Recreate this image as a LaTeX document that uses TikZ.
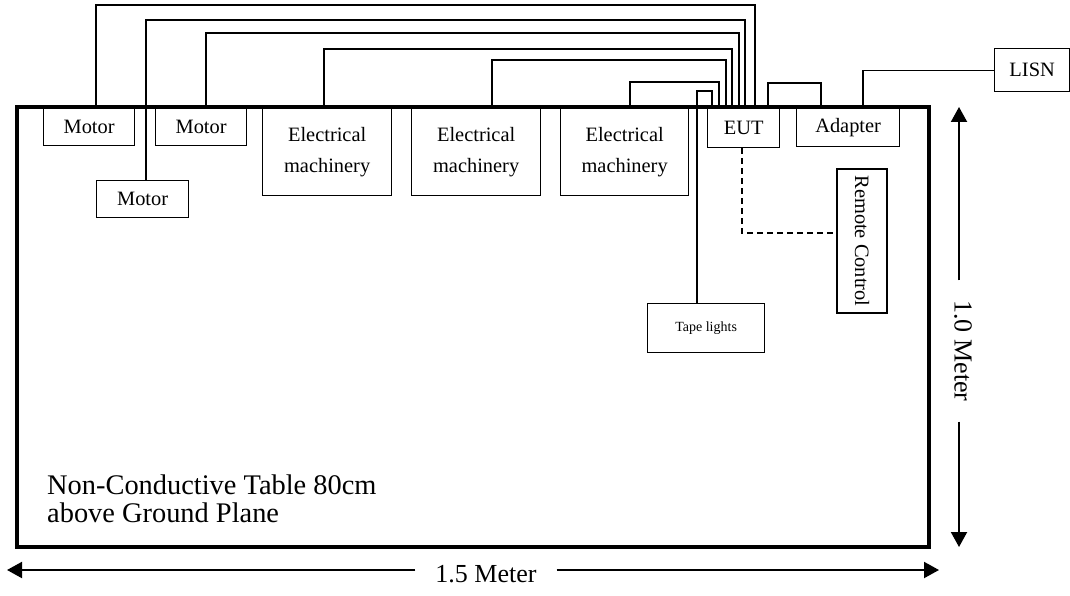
\documentclass[tikz,border=0pt]{standalone}
\usepackage{fontspec}
\setmainfont{Liberation Serif}
\usetikzlibrary{arrows.meta}
\newcommand{\unitfont}{\fontsize{20.4}{31}\selectfont}
\newcommand{\tablefont}{\fontsize{28.4}{28}\selectfont}
\newcommand{\meterfont}{\fontsize{26}{26}\selectfont}

\begin{document}
\begin{tikzpicture}[x=1pt, y=-1pt,
  unit/.style={draw, line width=1.3pt, inner sep=0pt, anchor=north west, align=center, font=\unitfont},
  cable/.style={line width=1.2pt},
  dimline/.style={line width=2pt, -{Triangle[length=15pt, width=16pt]}},
  dimlabel/.style={inner xsep=20pt, inner ysep=0pt, font=\meterfont}]
  \useasboundingbox (0,0) rectangle (1070,596);
  % ---------------------------------------------------------------- the table
  \draw[line width=4pt] (17,107) rectangle (929,547);
  \node[anchor=north west, inner sep=0pt, align=left, font=\tablefont] (tbl) at (47,475)
    {Non-Conductive Table 80cm\\above Ground Plane};
  % ---------------------------------------------------------------- units along the back edge
  \node[unit, minimum width=91, minimum height=38] (mot1) at (43,107) {Motor};
  \node[unit, minimum width=91, minimum height=38] (mot2) at (155,107) {Motor};
  \node[unit, minimum width=92, minimum height=37] (mot3) at (96,180) {Motor};
  \node[unit, minimum width=129, minimum height=88] (mach1) at (262,107) {Electrical\\machinery};
  \node[unit, minimum width=129, minimum height=88] (mach2) at (411,107) {Electrical\\machinery};
  \node[unit, minimum width=128, minimum height=88] (mach3) at (560,107) {Electrical\\machinery};
  \node[unit, minimum width=72, minimum height=40] (eut) at (707,107) {EUT};
  \node[unit, minimum width=103, minimum height=39] (adp) at (796,107) {Adapter};
  \node[unit, minimum width=75, minimum height=43] (lisn) at (994,48) {LISN};
  \node[unit, minimum width=117, minimum height=49, font=\fontsize{14}{16}\selectfont] (tape) at (647,303) {Tape lights};
  \node[unit, anchor=center, rotate=-90, minimum width=144, minimum height=50] (rc) at (862,241) {Remote Control};
  % ---------------------------------------------------------------- cables into the EUT
  \draw[cable] (mot1.north -| 96,0) |- (755,5) -- (eut.north -| 755,0);
  \draw[cable] (mot3.north -| 146,0) |- (745,20) -- (eut.north -| 745,0);
  \draw[cable] (mot2.north -| 206,0) |- (739,33) -- (eut.north -| 739,0);
  \draw[cable] (mach1.north -| 324,0) |- (732,49) -- (eut.north -| 732,0);
  \draw[cable] (mach2.north -| 492,0) |- (726,60) -- (eut.north -| 726,0);
  \draw[cable] (mach3.north -| 630,0) |- (719,82) -- (eut.north -| 719,0);
  \draw[cable] (tape.north -| 697,0) |- (712,91) -- (eut.north -| 712,0);
  % power: EUT -> adapter -> LISN
  \draw[cable] (eut.north -| 768,0) |- (821,83) -- (adp.north -| 821,0);
  \draw[cable] (adp.north -| 863,0) |- (lisn.west);
  % remote control link
  \draw[cable, dash pattern=on 6pt off 4pt] (eut.south -| 742,0) |- (rc.south |- 0,233);
  % ---------------------------------------------------------------- dimensions
  \coordinate (vt) at (959,107);
  \coordinate (vb) at (959,547);
  \node[dimlabel, rotate=-90] (vlab) at (963,351) {1.0 Meter};
  \draw[dimline] (vlab.west -| vt) -- (vt);
  \draw[dimline] (vlab.east -| vb) -- (vb);
  \coordinate (hl) at (7,570);
  \coordinate (hr) at (939,570);
  \node[dimlabel] (hlab) at (486,574) {1.5 Meter};
  \draw[dimline] (hlab.west |- hl) -- (hl);
  \draw[dimline] (hlab.east |- hr) -- (hr);
\end{tikzpicture}
\end{document}
